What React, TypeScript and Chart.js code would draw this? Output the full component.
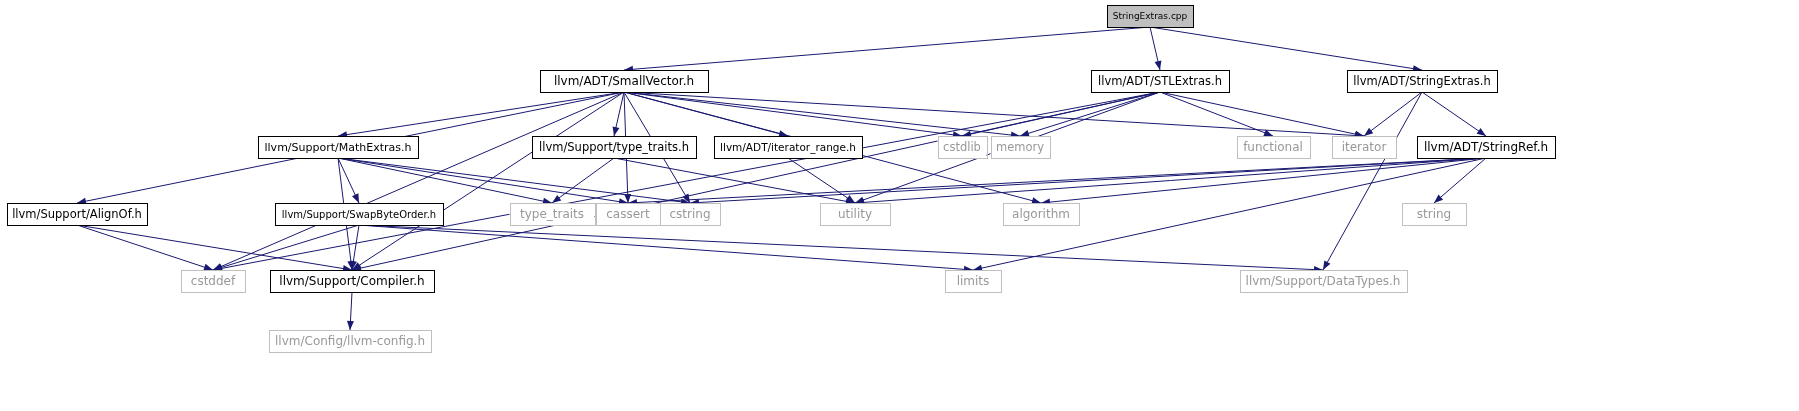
import { useEffect, useRef } from "react"
import { Chart, registerables } from "chart.js"

Chart.register(...registerables)

// node labels, and whether the node is an external (grey) header
const nodeLabels = [
  "StringExtras.cpp", "llvm/ADT/SmallVector.h", "llvm/ADT/STLExtras.h", "llvm/ADT/StringExtras.h",
  "llvm/Support/MathExtras.h", "llvm/Support/type_traits.h", "llvm/ADT/iterator_range.h", "cstdlib",
  "memory", "functional", "iterator", "llvm/ADT/StringRef.h",
  "llvm/Support/AlignOf.h", "llvm/Support/SwapByteOrder.h", "type_traits", "cassert",
  "cstring", "utility", "algorithm", "string",
  "cstddef", "llvm/Support/Compiler.h", "limits", "llvm/Support/DataTypes.h",
  "llvm/Config/llvm-config.h",
]
const nodeExternal = [
  false, false, false, false, false, false, false, true, true, true, true, false,
  false, false, true, true, true, true, true, true, true, false, true, true, true,
]

// layout (centre x, centre y, width)
const nodeX = [1150, 624, 1160, 1422, 338, 614, 788, 962, 1020, 1273, 1364, 1486, 77, 359, 552, 628, 690, 855, 1041, 1434, 213, 352, 973, 1323, 350]
const nodeY = [16, 81, 81, 81, 147, 147, 147, 147, 147, 147, 147, 147, 214, 214, 214, 214, 214, 214, 214, 214, 281, 281, 281, 281, 341]
const nodeW = [86, 168, 138, 150, 160, 164, 148, 49, 59, 73, 64, 138, 140, 168, 85, 64, 60, 70, 76, 64, 64, 164, 56, 167, 162]
const nodeH = 22

// include edges [from, to]
const edges: [number, number][] = [
  [0, 1], [0, 2], [0, 3],
  [1, 12], [1, 4], [1, 21], [1, 20], [1, 5], [1, 6], [1, 15], [1, 16], [1, 7], [1, 8], [1, 18], [1, 10],
  [2, 7], [2, 8], [2, 9], [2, 10], [2, 17], [2, 21], [2, 20],
  [3, 10], [3, 11], [3, 23],
  [4, 13], [4, 14], [4, 15], [4, 16], [4, 21],
  [5, 14], [5, 17],
  [6, 17],
  [11, 19], [11, 22], [11, 15], [11, 16], [11, 17], [11, 18],
  [12, 20], [12, 21],
  [13, 20], [13, 21], [13, 22], [13, 23],
  [21, 24],
]

const EDGE = "#191970"

export default function App() {
  const ref = useRef<HTMLCanvasElement>(null)
  const inst = useRef<Chart | null>(null)

  useEffect(() => {
    if (!ref.current) return
    inst.current?.destroy()

    const edgeSets = edges.map(([a, b]) => ({
      type: "line" as const,
      data: [
        { x: nodeX[a], y: nodeY[a] + nodeH / 2 },
        { x: nodeX[b], y: nodeY[b] - nodeH / 2 },
      ],
      borderColor: EDGE,
      borderWidth: 1,
      pointRadius: 0,
      showLine: true,
    }))

    const nodesPlugin = {
      id: "nodes",
      afterDatasetsDraw(chart: Chart) {
        const ctx = chart.ctx
        const xs = chart.scales.x
        const ys = chart.scales.y
        ctx.save()
        // arrowheads
        ctx.fillStyle = EDGE
        edges.forEach(([a, b]) => {
          const x1 = xs.getPixelForValue(nodeX[a]), y1 = ys.getPixelForValue(nodeY[a] + nodeH / 2)
          const x2 = xs.getPixelForValue(nodeX[b]), y2 = ys.getPixelForValue(nodeY[b] - nodeH / 2)
          const ang = Math.atan2(y2 - y1, x2 - x1)
          const L = 9, W = 3.5
          ctx.beginPath()
          ctx.moveTo(x2, y2)
          ctx.lineTo(x2 - L * Math.cos(ang) + W * Math.sin(ang), y2 - L * Math.sin(ang) - W * Math.cos(ang))
          ctx.lineTo(x2 - L * Math.cos(ang) - W * Math.sin(ang), y2 - L * Math.sin(ang) + W * Math.cos(ang))
          ctx.closePath()
          ctx.fill()
        })
        // boxes
        ctx.textAlign = "center"
        ctx.textBaseline = "middle"
        nodeLabels.forEach((lab, i) => {
          const cx = xs.getPixelForValue(nodeX[i]), cy = ys.getPixelForValue(nodeY[i])
          const w = nodeW[i], h = nodeH
          const ext = nodeExternal[i]
          ctx.fillStyle = i === 0 ? "#bfbfbf" : "#ffffff"
          ctx.fillRect(cx - w / 2, cy - h / 2, w, h)
          ctx.strokeStyle = ext ? "#bfbfbf" : "#000000"
          ctx.lineWidth = 1
          ctx.strokeRect(Math.round(cx - w / 2) + 0.5, Math.round(cy - h / 2) + 0.5, w, h)
          let size = 12
          ctx.font = `${size}px 'DejaVu Sans'`
          while (ctx.measureText(lab).width > w - 10 && size > 8) {
            size -= 0.5
            ctx.font = `${size}px 'DejaVu Sans'`
          }
          ctx.fillStyle = ext ? "#999999" : "#000000"
          ctx.fillText(lab, cx, cy + 1)
        })
        ctx.restore()
      },
    }

    inst.current = new Chart(ref.current, {
      type: "scatter",
      data: { datasets: edgeSets },
      options: {
        animation: false,
        responsive: true,
        maintainAspectRatio: false,
        devicePixelRatio: 1,
        layout: { padding: 0 },
        scales: {
          x: { type: "linear", min: 0, max: 1799, display: false },
          y: { type: "linear", min: 0, max: 411, reverse: true, display: false },
        },
        plugins: { legend: { display: false }, tooltip: { enabled: false } },
      },
      plugins: [nodesPlugin],
    })

    return () => {
      inst.current?.destroy()
      inst.current = null
    }
  }, [])

  return (
    <div style={{ position: "fixed", left: 0, top: 0, width: 1799, height: 411, background: "#fff" }}>
      <canvas ref={ref} />
    </div>
  )
}
